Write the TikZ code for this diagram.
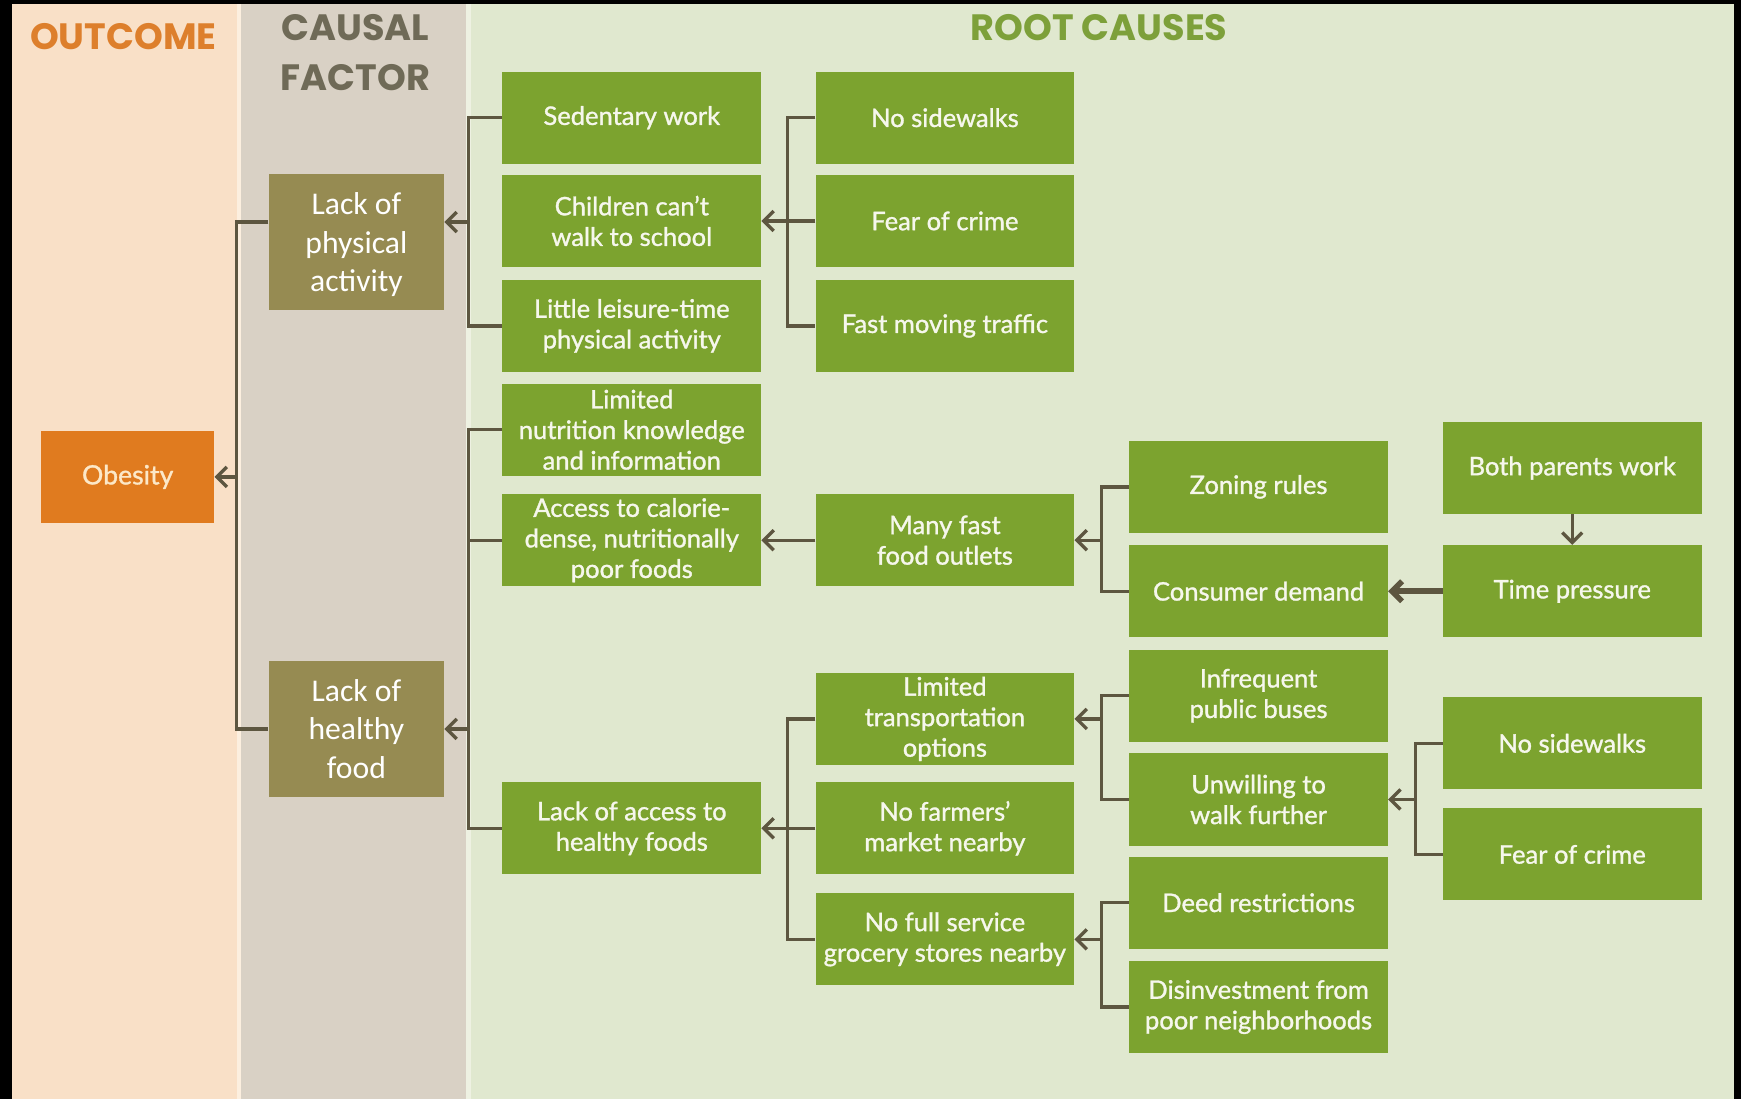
\documentclass[tikz,border=0pt]{standalone}
\usepackage{fontspec}
\setmainfont{Lato}
\newfontfamily\boxfont{Lato}[FakeBold=1.2]
\newfontfamily\hdfont{Poppins}
\newfontfamily\calfont{Carlito}
\usetikzlibrary{arrows.meta}
\definecolor{peach}{HTML}{F9E0C7}
\definecolor{greyband}{HTML}{D9D1C5}
\definecolor{greenband}{HTML}{E0E8CF}
\definecolor{sepa}{HTML}{FCEFDF}
\definecolor{sepb}{HTML}{EEF1E2}
\definecolor{hdorange}{HTML}{DD7F2C}
\definecolor{hdgrey}{HTML}{6F6A57}
\definecolor{hdgreen}{HTML}{7DA03A}
\definecolor{boxgreen}{HTML}{7CA32F}
\definecolor{boxolive}{HTML}{968B52}
\definecolor{boxorange}{HTML}{E07B1F}
\definecolor{linec}{HTML}{5D5640}
\definecolor{boxtext}{HTML}{F6F7EC}
\definecolor{obtext}{HTML}{FCE8C8}
\begin{document}
\begin{tikzpicture}[x=1pt,y=-1pt,
  gbox/.style={fill=boxgreen, text=boxtext, align=center, inner sep=0pt,
    minimum width=233pt, minimum height=83pt, font=\boxfont\fontsize{23}{27.5}\selectfont},
  obox/.style={fill=boxolive, text=white, align=center, inner sep=0pt,
    minimum width=158pt, minimum height=122pt, text depth=-6pt,
    font=\calfont\fontsize{28.5}{34.5}\selectfont},
  orbox/.style={fill=boxorange, text=obtext, align=center, inner sep=0pt,
    minimum width=156pt, minimum height=83pt, font=\boxfont\fontsize{24}{28}\selectfont},
  hd/.style={font=\hdfont\bfseries\fontsize{33}{45}\selectfont, align=center, inner sep=0pt},
  conn/.style={draw=linec, line width=3pt},
  arr/.style={conn, -{Straight Barb[length=9pt,width=18pt]}},
]
\useasboundingbox (0,0) rectangle (1568,990);
% background
\fill[black] (0,0) rectangle (1568,990);
\fill[peach] (11,4) rectangle (213,990);
\fill[sepa] (213,4) rectangle (217,990);
\fill[greyband] (217,4) rectangle (420,990);
\fill[sepb] (420,4) rectangle (424,990);
\fill[greenband] (424,4) rectangle (1562,990);
% headers
\node[hd, text=hdorange] (hout) at (111,33) {OUTCOME};
\node[hd, text=hdgrey] (hcf) at (320,47) {CAUSAL\\FACTOR};
\node[hd, text=hdgreen] (hrc) at (990,25) {ROOT CAUSES};
% outcome and causal factors
\node[orbox] (ob) at (115,429.5) {Obesity};
\node[obox] (lpa) at (321,218) {Lack of\\physical\\activity};
\node[obox] (lhf) at (321,656.5) {Lack of\\healthy\\food};
% column 2
\node[gbox] (sed) at (569,106) {Sedentary work};
\node[gbox] (child) at (569,199) {Children can’t\\walk to school};
\node[gbox] (leis) at (569,293.5) {Little leisure-time\\physical activity};
\node[gbox] (nutr) at (569,387) {Limited\\nutrition knowledge\\and information};
\node[gbox] (acc) at (569,486.5) {Access to calorie-\\dense, nutritionally\\poor foods};
\node[gbox] (lacc) at (569,746) {Lack of access to\\healthy foods};
% column 3
\node[gbox] (nosw) at (851,106) {No sidewalks};
\node[gbox] (fear) at (851,199) {Fear of crime};
\node[gbox] (traffic) at (851,293.5) {Fast moving traffic};
\node[gbox] (manyff) at (851,486.5) {Many fast\\food outlets};
\node[gbox] (ltrans) at (851,647.5) {Limited\\transportation\\options};
\node[gbox] (farmers) at (851,746) {No farmers’\\market nearby};
\node[gbox] (grocery) at (851,846) {No full service\\grocery stores nearby};
% column 4
\node[gbox] (zoning) at (1133.5,438.5) {Zoning rules};
\node[gbox] (consumer) at (1133.5,532.5) {Consumer demand};
\node[gbox] (buses) at (1133.5,626.5) {Infrequent\\public buses};
\node[gbox] (unwill) at (1133.5,720) {Unwilling to\\walk further};
\node[gbox] (deed) at (1133.5,813) {Deed restrictions};
\node[gbox] (disinv) at (1133.5,907) {Disinvestment from\\poor neighborhoods};
% column 5
\node[gbox] (parents) at (1416,421.5) {Both parents work};
\node[gbox] (time) at (1416,532.5) {Time pressure};
\node[gbox] (nosw2) at (1416,669.5) {No sidewalks};
\node[gbox] (fear2) at (1416,769.5) {Fear of crime};
% connectors
\coordinate (bO) at (213,429.5);
\draw[conn] ([yshift=18pt]lpa.west) -| (bO) |- (lhf.west);
\draw[arr] (bO) -- (ob.east);

\coordinate (b1) at (422,200);
\draw[conn] (sed.west) -| (b1) |- (leis.west);
\draw[arr] (b1) -- (b1 -| lpa.east);

\coordinate (b2) at (422,656.5);
\draw[conn] (nutr.west) -| (b2) |- (lacc.west);
\draw[conn] (acc.west) -- (acc.west -| b2);
\draw[arr] (b2) -- (lhf.east);

\coordinate (b3) at (709,199);
\draw[conn] (nosw.west) -| (b3) |- (traffic.west);
\draw[conn] (fear.west) -- (b3);
\draw[arr] (b3) -- (child.east);

\draw[arr] (manyff.west) -- (acc.east);

\coordinate (b4) at (992,486.5);
\draw[conn] (zoning.west) -| (b4) |- (consumer.west);
\draw[arr] (b4) -- (manyff.east);

\draw[arr, line width=5pt] (time.west) -- (consumer.east);
\draw[arr] (parents.south) -- (time.north);

\coordinate (b5) at (992,647.5);
\draw[conn] (buses.west) -| (b5) |- (unwill.west);
\draw[arr] (b5) -- (ltrans.east);

\coordinate (b6) at (709,746);
\draw[conn] (ltrans.west) -| (b6) |- (grocery.west);
\draw[conn] (farmers.west) -- (b6);
\draw[arr] (b6) -- (lacc.east);

\coordinate (b7) at (992,846);
\draw[conn] (deed.west) -| (b7) |- (disinv.west);
\draw[arr] (b7) -- (grocery.east);

\coordinate (b8) at (1275,720);
\draw[conn] (nosw2.west) -| (b8) |- (fear2.west);
\draw[arr] (b8) -- (unwill.east);
\end{tikzpicture}
\end{document}
